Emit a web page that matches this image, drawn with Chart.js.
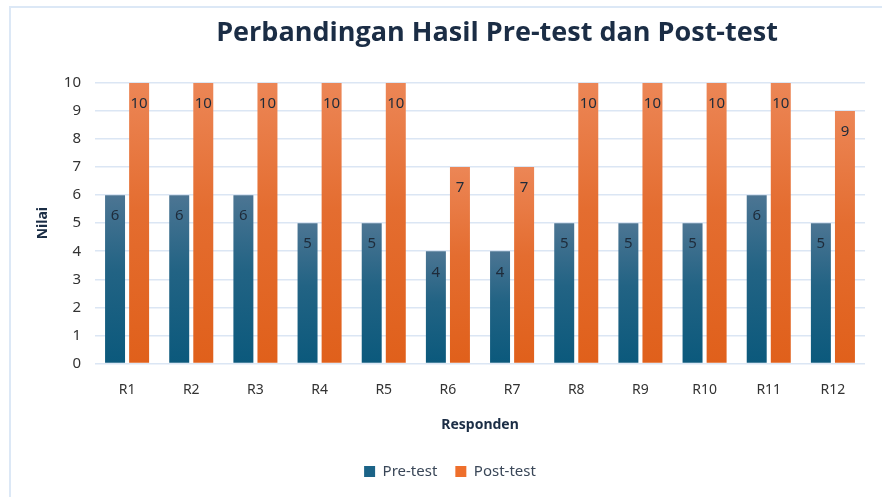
<!DOCTYPE html>
<html>
<head>
<meta charset="utf-8">
<script src="https://cdn.jsdelivr.net/npm/chart.js@4"></script>
<style>
  html, body { margin: 0; padding: 0; background: #fff; overflow: hidden; }
  #frame {
    position: absolute; left: 9px; top: 6px; width: 900px; height: 520px;
    border-top: 2px solid #dce8f6; border-left: 2px solid #dce8f6;
  }
  #wrap { position: absolute; left: 0; top: 0; width: 882px; height: 497px; }
</style>
</head>
<body>
<div id="frame"></div>
<div id="wrap"><canvas id="chart"></canvas></div>
<script>
// Data
const responden = ['R1', 'R2', 'R3', 'R4', 'R5', 'R6', 'R7', 'R8', 'R9', 'R10', 'R11', 'R12'];
const preTest  = [6, 6, 6, 5, 5, 4, 4, 5, 5, 5, 6, 5];
const postTest = [10, 10, 10, 10, 10, 7, 7, 10, 10, 10, 10, 9];

const textNavy = '#1b2d45';
const gridColor = '#dbe6f4';

// vertical gradient per bar, from the bar top down to the axis
function barGradient(top, bottom) {
    return (ctx) => {
        const chart = ctx.chart;
        const y = chart.scales.y;
        if (!chart.chartArea || !y || ctx.raw === undefined) return bottom;
        const yTop = y.getPixelForValue(ctx.raw);
        const yBase = y.getPixelForValue(0);
        const g = chart.ctx.createLinearGradient(0, yTop, 0, yBase);
        g.addColorStop(0, top);
        g.addColorStop(0.45, mid(top, bottom));
        g.addColorStop(1, bottom);
        return g;
    };
}
function mid(a, b) {
    const p = s => [1, 3, 5].map(i => parseInt(s.substr(i, 2), 16));
    const x = p(a), y = p(b);
    return 'rgb(' + x.map((v, i) => Math.round(v * 0.35 + y[i] * 0.65)).join(',') + ')';
}

// draws the value inside each bar, a little below its top
const valueLabels = {
    id: 'valueLabels',
    afterDatasetsDraw(chart) {
        const c = chart.ctx;
        c.save();
        c.font = '15px "Noto Sans", sans-serif';
        c.fillStyle = '#1e2b3a';
        c.textAlign = 'center';
        c.textBaseline = 'middle';
        chart.data.datasets.forEach((ds, i) => {
            chart.getDatasetMeta(i).data.forEach((bar, j) => {
                c.fillText(String(ds.data[j]), bar.x, bar.y + 21);
            });
        });
        c.restore();
    }
};

// chart heading, placed like the original (a bit right of centre)
const heading = {
    id: 'heading',
    afterDraw(chart) {
        const c = chart.ctx;
        c.save();
        c.font = 'bold 27px "Open Sans", sans-serif';
        c.fillStyle = textNavy;
        c.textAlign = 'center';
        c.textBaseline = 'middle';
        c.fillText('Perbandingan Hasil Pre-test dan Post-test', 497, 33);
        c.restore();
    }
};

new Chart(document.getElementById('chart'), {
    type: 'bar',
    data: {
        labels: responden,
        datasets: [{
            label: 'Pre-test',
            data: preTest,
            backgroundColor: barGradient('#4c7593', '#0b597c'),
            legendColor: '#1b6387',
            barPercentage: 0.83,
            categoryPercentage: 0.75
        }, {
            label: 'Post-test',
            data: postTest,
            backgroundColor: barGradient('#ec8656', '#e0601b'),
            legendColor: '#ee6f2c',
            barPercentage: 0.83,
            categoryPercentage: 0.75
        }]
    },
    options: {
        responsive: true,
        maintainAspectRatio: false,
        animation: false,
        layout: { padding: { left: 35, right: 17, top: 83, bottom: 8 } },
        plugins: {
            title: { display: false },
            tooltip: { enabled: false },
            legend: {
                position: 'bottom',
                labels: {
                    color: '#3a4758',
                    font: { size: 15, family: '"Noto Sans", sans-serif' },
                    boxWidth: 11,
                    boxHeight: 11,
                    padding: 18,
                    generateLabels: (chart) => chart.data.datasets.map((ds, i) => ({
                        text: ds.label,
                        fillStyle: ds.legendColor,
                        strokeStyle: ds.legendColor,
                        lineWidth: 0,
                        hidden: false,
                        datasetIndex: i,
                        fontColor: '#3a4758'
                    }))
                }
            }
        },
        scales: {
            x: {
                grid: { display: false, drawTicks: false },
                border: { display: false },
                ticks: { color: '#333', padding: 18, font: { size: 14, family: '"Noto Sans", sans-serif' } },
                title: {
                    display: true,
                    text: 'Responden',
                    color: textNavy,
                    padding: { top: 0, bottom: 13 },
                    font: { size: 14, weight: 'bold', family: '"Noto Sans", sans-serif' }
                }
            },
            y: {
                min: 0,
                max: 10,
                afterFit: (s) => { s.width = 60; },
                grid: { color: gridColor, lineWidth: 1.5, drawTicks: false },
                border: { display: false },
                ticks: { stepSize: 1, color: '#333', padding: 14, font: { size: 15, family: '"Noto Sans", sans-serif' } },
                title: {
                    display: true,
                    text: 'Nilai',
                    color: textNavy,
                    padding: 0,
                    font: { size: 14, weight: 'bold', family: '"Noto Sans", sans-serif' }
                }
            }
        }
    },
    plugins: [valueLabels, heading]
});
</script>
</body>
</html>
